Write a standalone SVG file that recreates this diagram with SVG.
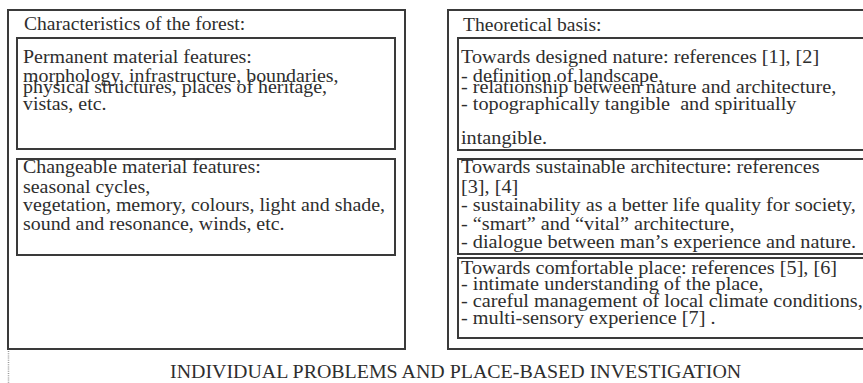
<svg xmlns="http://www.w3.org/2000/svg" width="863" height="383" viewBox="0 0 863 383">
<style>
.box{fill:none;stroke:#3a3a3a;stroke-width:2}
.t{font-family:"Liberation Serif","DejaVu Serif",serif;font-size:17.8px;fill:#2e2e2e;white-space:pre}
.dot{stroke:#9a9a9a;stroke-width:1.5;stroke-dasharray:1 1.2;fill:none}
</style>
<rect width="863" height="383" fill="#ffffff"/>
<g id="forest">
<rect class="box" x="8" y="10" width="397" height="339"/>
<g transform="scale(1.1 1)"><text class="t" x="21.8" y="30">Characteristics of the forest:</text></g>
</g>
<g id="permanent">
<rect class="box" x="17" y="38" width="378" height="111"/>
<g transform="scale(1.12 1)">
<text class="t" x="20.54" y="63">Permanent material features:</text>
<text class="t" x="20.54" y="82">morphology, infrastructure, boundaries,</text>
<text class="t" x="20.54" y="93">physical structures, places of heritage,</text>
<text class="t" x="20.54" y="110">vistas, etc.</text>
</g>
</g>
<g id="changeable">
<rect class="box" x="17" y="159" width="378" height="96"/>
<g transform="scale(1.12 1)">
<text class="t" x="20.54" y="173">Changeable material features:</text>
<text class="t" x="20.54" y="193">seasonal cycles,</text>
<text class="t" x="20.54" y="211">vegetation, memory, colours, light and shade,</text>
<text class="t" x="20.54" y="230">sound and resonance, winds, etc.</text>
</g>
</g>
<g id="theory">
<rect class="box" x="448" y="10" width="440" height="339"/>
<g transform="scale(1.1 1)"><text class="t" x="420.9" y="31">Theoretical basis:</text></g>
</g>
<g id="designed">
<rect class="box" x="458" y="38" width="420" height="112"/>
<g transform="scale(1.138 1)">
<text class="t" x="405.1" y="63">Towards designed nature: references [1], [2]</text>
<text class="t" x="405.1" y="82">- definition of landscape,</text>
<text class="t" x="405.1" y="93">- relationship between nature and architecture,</text>
<text class="t" x="405.1" y="110">- topographically tangible  and spiritually</text>
<text class="t" x="405.1" y="144">intangible.</text>
</g>
</g>
<g id="sustainable">
<rect class="box" x="458" y="159" width="420" height="95"/>
<g transform="scale(1.138 1)">
<text class="t" x="405.1" y="173">Towards sustainable architecture: references</text>
<text class="t" x="405.1" y="193">[3], [4]</text>
<text class="t" x="405.1" y="211">- sustainability as a better life quality for society,</text>
<text class="t" x="405.1" y="230">- “smart” and “vital” architecture,</text>
<text class="t" x="405.1" y="248">- dialogue between man’s experience and nature.</text>
</g>
</g>
<g id="comfortable">
<rect class="box" x="458" y="258" width="420" height="80"/>
<g transform="scale(1.138 1)">
<text class="t" x="405.1" y="274">Towards comfortable place: references [5], [6]</text>
<text class="t" x="405.1" y="290">- intimate understanding of the place,</text>
<text class="t" x="405.1" y="307">- careful management of local climate conditions,</text>
<text class="t" x="405.1" y="324">- multi-sensory experience [7] .</text>
</g>
</g>
<g id="connectors">
<line class="dot" x1="8.5" y1="351" x2="8.5" y2="383"/>
</g>
<g id="footer">
<g transform="scale(1.12 1)"><text class="t" x="151.8" y="378">INDIVIDUAL PROBLEMS AND PLACE-BASED INVESTIGATION</text></g>
</g>
</svg>
